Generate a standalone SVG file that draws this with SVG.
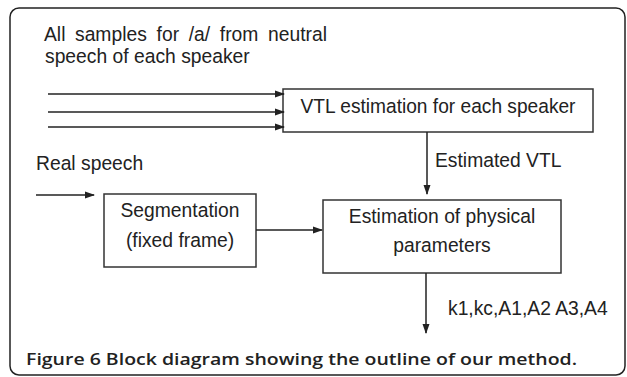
<svg xmlns="http://www.w3.org/2000/svg" width="627" height="377" viewBox="0 0 627 377">
<defs>
<marker id="ah" markerWidth="10" markerHeight="8" refX="9" refY="4" orient="auto" markerUnits="userSpaceOnUse">
<path d="M0,0.5 L10,4 L0,7.5 Z" fill="#222"/>
</marker>
<style>
.t{font-family:"Liberation Sans",Arial,Helvetica,sans-serif;font-size:19.3px;fill:#222}
.c{text-anchor:middle}
.box{fill:#fff;stroke:#333;stroke-width:1.5}
.ln{stroke:#222;stroke-width:1.5;fill:none;marker-end:url(#ah)}
.cap{font-family:"Open Sans","Noto Sans",sans-serif;font-size:16.5px;font-weight:600;fill:#222}
</style>
</defs>
<rect width="627" height="377" fill="#fff"/>
<rect x="10" y="8" width="615" height="367" rx="9" fill="none" stroke="#222" stroke-width="1.5"/>
<g id="labels">
<text class="t" y="41"><tspan x="44">All</tspan><tspan x="75">samples</tspan><tspan x="156.6">for</tspan><tspan x="188.7">/a/</tspan><tspan x="219.8">from</tspan><tspan x="268">neutral</tspan></text>
<text class="t" x="45" y="63">speech of each speaker</text>
<text class="t" x="36" y="170">Real speech</text>
<text class="t" x="435" y="167">Estimated VTL</text>
<text class="t" x="448" y="315">k1,kc,A1,A2 A3,A4</text>
</g>
<g id="vtl">
<rect class="box" x="283" y="89" width="310" height="43"/>
<text class="t c" x="438" y="113" textLength="275" lengthAdjust="spacingAndGlyphs">VTL estimation for each speaker</text>
</g>
<g id="seg">
<rect class="box" x="104" y="194" width="152" height="73"/>
<text class="t c" x="180" y="217">Segmentation</text>
<text class="t c" x="180" y="247">(fixed frame)</text>
</g>
<g id="est">
<rect class="box" x="323" y="200" width="238" height="73"/>
<text class="t c" x="442" y="223">Estimation of physical</text>
<text class="t c" x="442" y="252">parameters</text>
</g>
<g id="connectors">
<line class="ln" x1="48" y1="94" x2="284" y2="94"/>
<line class="ln" x1="48" y1="112" x2="284" y2="112"/>
<line class="ln" x1="48" y1="127" x2="284" y2="127"/>
<line class="ln" x1="427" y1="132" x2="427" y2="194"/>
<line class="ln" x1="36" y1="195" x2="94" y2="195"/>
<line class="ln" x1="256" y1="230" x2="322" y2="230"/>
<line class="ln" x1="426" y1="273" x2="426" y2="333"/>
</g>
<text class="cap" x="26" y="365" textLength="551" lengthAdjust="spacingAndGlyphs">Figure 6 Block diagram showing the outline of our method.</text>
</svg>
